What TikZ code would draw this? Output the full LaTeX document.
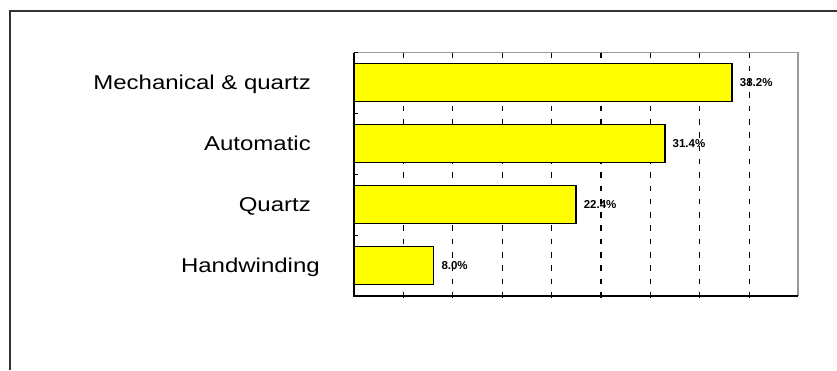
\documentclass[tikz,border=0pt]{standalone}
\usepackage{fontspec}
\setmainfont{Liberation Sans}
\definecolor{barfill}{HTML}{FFFF00}
\definecolor{framegray}{HTML}{333333}
\definecolor{boxgray}{HTML}{999999}
\begin{document}
\begin{tikzpicture}[x=1pt,y=-1pt,
  catlabel/.style={anchor=base east,inner sep=0pt,font=\fontsize{20}{20}\selectfont},
  vallabel/.style={anchor=west,inner sep=0pt,font=\fontsize{11.5}{11.5}\selectfont\bfseries},
  bar/.style={draw=black,line width=1.3pt,fill=barfill,anchor=west,inner sep=0pt,minimum height=38pt},
  grid/.style={black,line width=1.2pt,dash pattern=on 5.5pt off 7.8pt}]
\useasboundingbox (0,0) rectangle (837,370);
% outer frame
\draw[framegray,line width=2pt] (10,370) -- (10,10.5) -- (837,10.5);
% plot box
\draw[boxgray,line width=1.5pt] (354,52.5) -- (798,52.5) -- (798,296);
% gridlines
\foreach \i in {1,...,8}{
  \draw[grid] (354+\i*49.4,52.5) -- (354+\i*49.4,296);
}
% bars
\node[bar,minimum width=377.4pt] (b1) at (354,82.5) {};
\node[bar,minimum width=310.2pt] (b2) at (354,143.5) {};
\node[bar,minimum width=221.3pt] (b3) at (354,204.5) {};
\node[bar,minimum width=79pt] (b4) at (354,265.5) {};
% axes
\draw[black,line width=1.5pt] (354,52.5) -- (354,296) -- (798,296);
\foreach \y in {52.5,113.5,174.5,235.5}{
  \draw[black,line width=1.2pt] (354,\y) -- (358,\y);
}
\foreach \i in {1,...,8}{
  \draw[black,line width=1.2pt] (354+\i*49.4,296) -- (354+\i*49.4,298);
}
% category labels
\node[catlabel] (l1) at (311,89) {\scalebox{1.2}[1]{Mechanical \& quartz}};
\node[catlabel] (l2) at (311,150) {\scalebox{1.2}[1]{Automatic}};
\node[catlabel] (l3) at (311,211) {\scalebox{1.2}[1]{Quartz}};
\node[catlabel] (l4) at (320,272) {\scalebox{1.2}[1]{Handwinding}};
% value labels
\node[vallabel] (v1) at ([xshift=7pt]b1.east) {38.2\%};
\node[vallabel] (v2) at ([xshift=7pt]b2.east) {31.4\%};
\node[vallabel] (v3) at ([xshift=7pt]b3.east) {22.4\%};
\node[vallabel] (v4) at ([xshift=7pt]b4.east) {8.0\%};
\end{tikzpicture}
\end{document}
